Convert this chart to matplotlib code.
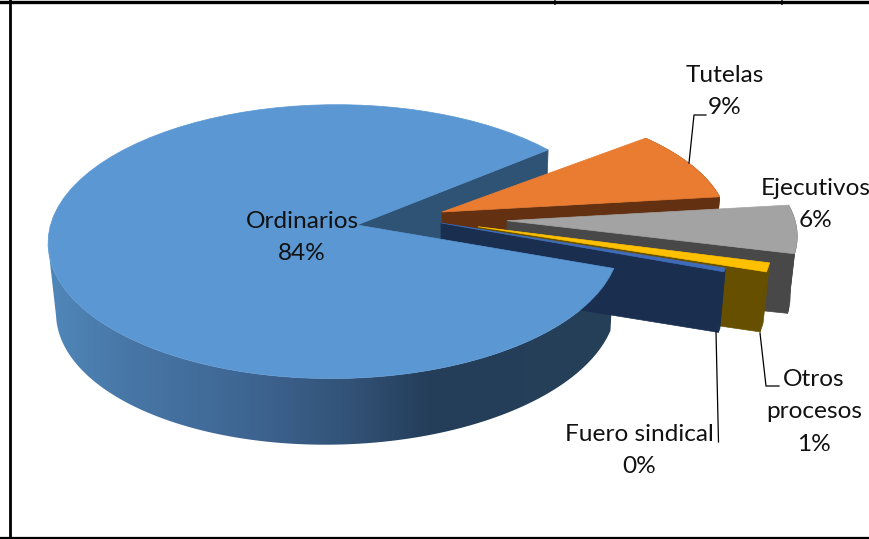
import numpy as np
import matplotlib
matplotlib.use('Agg')
import matplotlib.pyplot as plt
from matplotlib.patches import Polygon

# Datos del grafico
categorias = ['Ordinarios', 'Tutelas', 'Ejecutivos', 'Otros\nprocesos', 'Fuero sindical']
valores = [83.6, 9.0, 6.0, 1.0, 0.4]
etiquetas = ['84%', '9%', '6%', '1%', '0%']

colores_top = ['#5a97d3', '#e97c30', '#a3a3a3', '#ffc000', '#3f6cba']
colores_pared = ['#2f5374', '#633112', '#484848', '#665000', '#1a2e50']

# Geometria de cada porcion: vertice en pixeles y semiejes
vertices = [(357, 225), (442, 212), (507, 220.7), (478, 226.7), (441, 223)]
semi_a = [282, 284, 288, 292, 288]
semi_b = [134.5, 125, 128, 140, 140]
persp_m = [0.08, 0, 0, 0, 0]
persp_k = 0.121
fuga_x = 447
escala_fondo = 0.98

ANGULO_INICIO = 39.5  # donde empieza Tutelas, en sentido horario


def proyectar(i, th, r=1.0):
    X = r * np.cos(np.radians(th))
    Y = r * np.sin(np.radians(th))
    w = 1 + persp_k * Y + persp_m[i] * X
    return vertices[i][0] + semi_a[i] * X / w, vertices[i][1] - semi_b[i] * Y / w


def abajo(x, y):
    # la pared es algo mas alta a la izquierda
    return fuga_x + escala_fondo * (x - fuga_x), y + 70.7 - 0.014 * x


def cara_superior(i, t0, t1):
    ths = np.linspace(t0, t1, 80)
    xs, ys = proyectar(i, ths)
    pts = [vertices[i]] + list(zip(xs, ys))
    return Polygon(pts, closed=True, facecolor=colores_top[i], edgecolor=colores_top[i], lw=0.5)


def pared_radial(i, th, color):
    x, y = proyectar(i, th)
    vx, vy = vertices[i]
    pts = [(vx, vy), (x, y), abajo(x, y), abajo(vx, vy)]
    return Polygon(pts, closed=True, facecolor=color, edgecolor=color, lw=0.5)


def contorno_arco(i, t0, t1, n=200):
    # poligono de la pared exterior entre dos angulos
    xs, ys = proyectar(i, np.linspace(t0, t1, n))
    bx, by = abajo(xs, ys)
    return np.column_stack([np.r_[xs, bx[::-1]], np.r_[ys, by[::-1]]])


# Gradiente horizontal de la pared exterior de Ordinarios
stops_x = [50, 120, 250, 350, 430, 620]
stops_c = np.array([[80, 135, 185], [72, 120, 168], [62, 101, 146],
                    [50, 82, 118], [36, 62, 90], [38, 64, 88]]) / 255

# Angulos de cada porcion (Tutelas -> Fuero en sentido horario, luego Ordinarios)
angs = {}
actual = ANGULO_INICIO
for i in [1, 2, 3, 4, 0]:
    angs[i] = (actual, actual - valores[i] * 3.6)
    actual = angs[i][1]

plt.rcParams['font.family'] = ['Lato', 'DejaVu Sans']
fig = plt.figure(figsize=(8.7, 5.39), dpi=100)
ax = fig.add_axes([0, 0, 1, 1])
ax.axis('off')

# Pared interna de Ordinarios (atras de todo)
ax.add_patch(pared_radial(0, ANGULO_INICIO, colores_pared[0]))

# Tutelas, Ejecutivos, Otros y Fuero, de atras hacia adelante
for i in [1, 2, 3, 4]:
    t0, t1 = angs[i]
    ax.add_patch(Polygon(contorno_arco(i, t0, t1), closed=True, facecolor=colores_pared[i],
                         edgecolor=colores_pared[i], lw=0.5))
    ax.add_patch(pared_radial(i, t1, colores_pared[i]))
    ax.add_patch(cara_superior(i, t0, t1))

# Ordinarios: pared exterior con gradiente y cara superior
t0, t1 = angs[0]
xg = np.arange(30, 640)
grad = np.stack([np.interp(xg, stops_x, stops_c[:, k]) for k in range(3)], axis=-1)[np.newaxis, :, :]
img = ax.imshow(grad, extent=(30, 640, 460, 100), aspect='auto', interpolation='bilinear')
clip = Polygon(contorno_arco(0, t0, -172, n=300), closed=True, transform=ax.transData)
img.set_clip_path(clip)
ax.add_patch(cara_superior(0, t0, t1))

# Lineas guia
ax.plot([689, 694, 706], [163, 115, 115], color='black', lw=0.9)
ax.plot([716, 718.5], [332, 442], color='black', lw=0.9)
ax.plot([760, 766, 779], [333, 386, 386], color='black', lw=0.9)

# Etiquetas, linea por linea desde la linea base
pos_etiquetas = [(302, 228), (725, 82), (816, 195), (814, 386), (639, 441)]
for cat, et, (x, y) in zip(categorias, etiquetas, pos_etiquetas):
    for k, linea in enumerate(cat.split('\n') + [et]):
        ax.text(x, y + k * 32.3, linea, ha='center', va='baseline', fontsize=17.6,
                color='#111111', clip_on=False)

# Marco
ax.plot([10.5, 10.5], [0, 539], color='black', lw=2)
ax.plot([0, 870], [1.5, 1.5], color='black', lw=2.4)
ax.plot([0, 870], [537.5, 537.5], color='black', lw=1.6)
ax.plot([555, 555], [1, 4], color='black', lw=1.2)
ax.plot([782, 782], [1, 4], color='black', lw=1.2)

ax.set_xlim(0, 870)
ax.set_ylim(539, 0)
fig.savefig('out.png', dpi=100)
